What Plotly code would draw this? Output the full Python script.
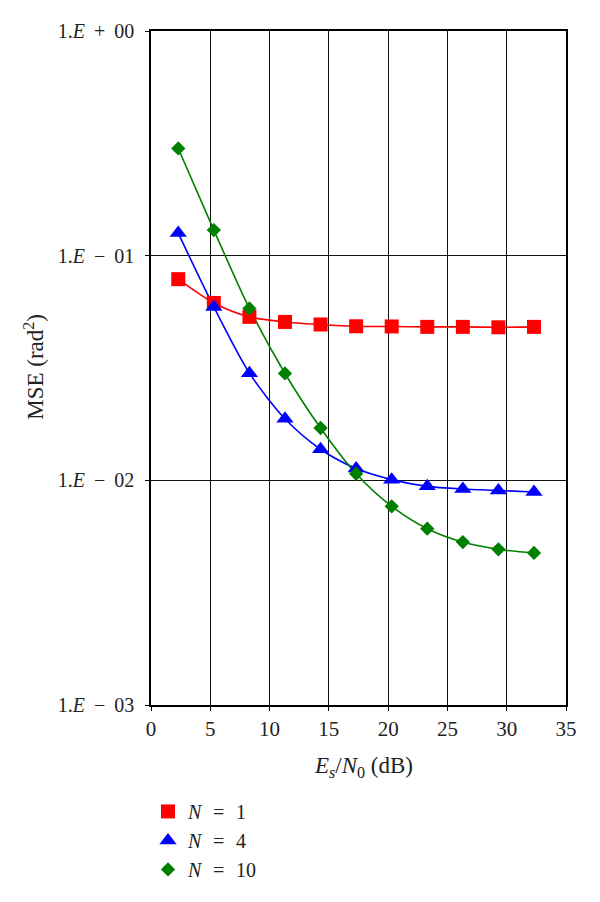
import plotly.graph_objects as go

snr_db = [2.3, 5.3, 8.3, 11.3, 14.3, 17.3, 20.3, 23.3, 26.3, 29.3, 32.3]
mse_n1 = [0.0786, 0.0616, 0.0534, 0.0507, 0.0494, 0.0485, 0.0484, 0.0482, 0.0482, 0.0480, 0.0482]
mse_n4 = [0.126, 0.0591, 0.0300, 0.0188, 0.01375, 0.01128, 0.01007, 0.0094, 0.00915, 0.00902, 0.00887]
mse_n10 = [0.300, 0.130, 0.0582, 0.0299, 0.0171, 0.0107, 0.00766, 0.00609, 0.00531, 0.00493, 0.00475]

SP = "\u00a0\u2009"
y_tickvals = [1, 0.1, 0.01, 0.001]
y_ticktext = [f"1.<i>E</i>{SP}+{SP}00", f"1.<i>E</i>{SP}−{SP}01",
              f"1.<i>E</i>{SP}−{SP}02", f"1.<i>E</i>{SP}−{SP}03"]
x_tickvals = [0, 5, 10, 15, 20, 25, 30, 35]

LSP = "\u2002\u200a"
legend_names = [f"<i>N</i>{LSP}={LSP}1", f"<i>N</i>{LSP}={LSP}4", f"<i>N</i>{LSP}={LSP}10"]

FONT = "Liberation Serif"
TXT = "#222222"

fig = go.Figure()
series = [
    (legend_names[0], mse_n1, "#ff0000", "square", 14),
    (legend_names[1], mse_n4, "#0000ff", "triangle-up", 15),
    (legend_names[2], mse_n10, "#008000", "diamond", 11),
]
for i, (name, ys, col, sym, sz) in enumerate(series):
    fig.add_trace(go.Scatter(
        x=snr_db, y=ys, mode="lines", showlegend=False, hoverinfo="skip",
        line=dict(color=col, width=1.6, shape="spline", smoothing=0.8),
    ))
for i, (name, ys, col, sym, sz) in enumerate(series):
    fig.add_trace(go.Scatter(
        x=snr_db, y=ys, name=name, mode="markers",
        marker=dict(color=col, symbol=sym, size=sz, line=dict(width=0)),
        legendgroup=f"g{i}",
    ))

axis_common = dict(
    showline=True, mirror=True, linecolor="black", linewidth=1.5,
    showgrid=True, gridcolor="#111111", gridwidth=1.4,
    ticks="outside", ticklen=4, tickcolor="black", tickwidth=1.3,
    zeroline=False,
)

fig.update_xaxes(range=[0, 35], tickvals=x_tickvals,
                 tickfont=dict(family=FONT, size=21, color=TXT), **axis_common)
fig.update_yaxes(type="log", range=[-3, 0], tickvals=y_tickvals, ticktext=y_ticktext,
                 tickfont=dict(family=FONT, size=20, color=TXT),
                 ticklabelstandoff=7, **axis_common)

fig.update_layout(
    width=600, height=902,
    margin=dict(l=151, r=34, t=31, b=197),
    paper_bgcolor="white", plot_bgcolor="white",
    showlegend=True,
    legend=dict(x=-0.0072, xanchor="left", y=-0.129, yanchor="top",
                font=dict(family=FONT, size=20, color=TXT),
                tracegroupgap=0, itemwidth=30, bgcolor="rgba(0,0,0,0)"),
    annotations=[
        dict(text="MSE (rad<sup>2</sup>)", xref="paper", yref="paper",
             x=-0.28, y=0.5015, textangle=-90, showarrow=False,
             xanchor="center", yanchor="middle",
             font=dict(family=FONT, size=23, color=TXT)),
        dict(text="<i>E<sub>s</sub></i>/<i>N</i><sub>0</sub> (dB)", xref="paper", yref="paper",
             x=0.511, y=-0.092, showarrow=False,
             xanchor="center", yanchor="middle",
             font=dict(family=FONT, size=23, color=TXT)),
    ],
)

fig.write_html("out.html", config={"displayModeBar": False},
               post_script="document.body.style.margin='0';")
